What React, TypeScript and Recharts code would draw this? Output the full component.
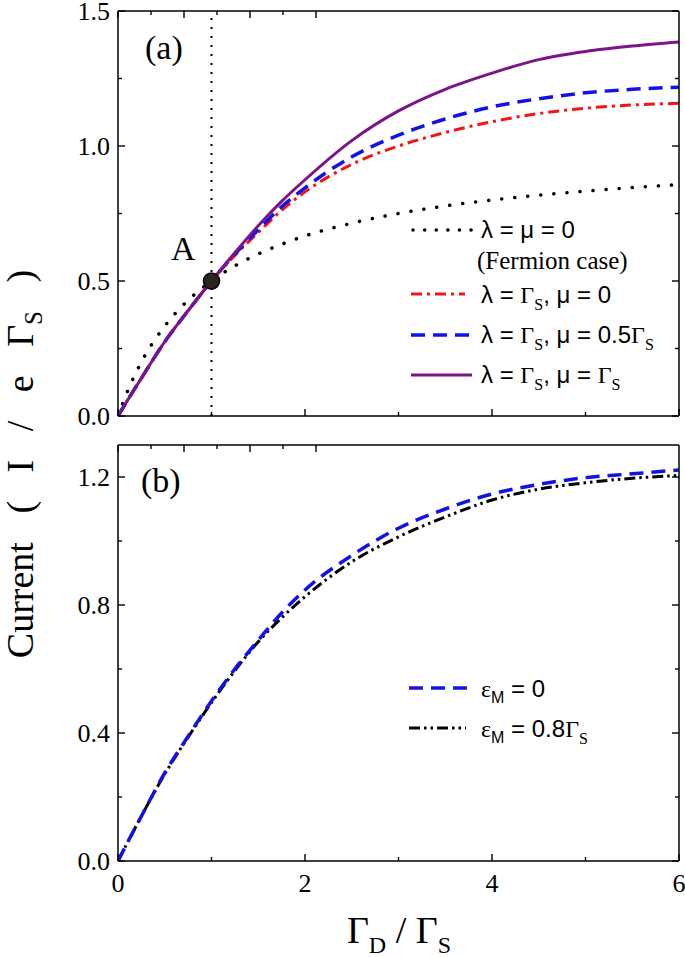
import React from 'react';
import { LineChart, Line, XAxis, YAxis, ReferenceLine, ReferenceDot, Legend } from 'recharts';

// ---------- data ----------
const xs = [0, 0.1, 0.25, 0.5, 0.75, 1, 1.25, 1.5, 1.75, 2, 2.5, 3, 3.5, 4, 4.5, 5, 5.5, 6];
// panel (a)
const fermion = [0, 0.09, 0.2, 0.333, 0.429, 0.5, 0.556, 0.6, 0.636, 0.667, 0.714, 0.75, 0.778, 0.8, 0.818, 0.833, 0.846, 0.857];
const lamMu0 = [0, 0.057, 0.14, 0.275, 0.39, 0.5, 0.595, 0.68, 0.762, 0.83, 0.932, 1.0, 1.05, 1.09, 1.12, 1.14, 1.152, 1.158];
const lamMuHalf = [0, 0.057, 0.14, 0.275, 0.39, 0.5, 0.6, 0.69, 0.775, 0.845, 0.96, 1.04, 1.1, 1.145, 1.175, 1.197, 1.21, 1.218];
const lamMuFull = [0, 0.057, 0.14, 0.275, 0.39, 0.5, 0.605, 0.705, 0.795, 0.875, 1.02, 1.13, 1.21, 1.27, 1.32, 1.35, 1.37, 1.385];
// panel (b)
const eps0 = [0, 0.057, 0.14, 0.275, 0.39, 0.5, 0.6, 0.69, 0.775, 0.847, 0.955, 1.04, 1.1, 1.147, 1.177, 1.198, 1.21, 1.222];
const eps08 = [0, 0.057, 0.14, 0.272, 0.387, 0.495, 0.595, 0.685, 0.76, 0.826, 0.935, 1.013, 1.075, 1.128, 1.162, 1.182, 1.196, 1.205];

// ticks
const xTickValues = [0, 1, 2, 3, 4, 5, 6];
const xTickLabels = ['0', '', '2', '', '4', '', '6'];
const yTopTicks = [0, 0.25, 0.5, 0.75, 1, 1.25, 1.5];
const yTopLabels = ['0.0', '', '0.5', '', '1.0', '', '1.5'];
const yBotTicks = [0, 0.2, 0.4, 0.6, 0.8, 1.0, 1.2];
const yBotLabels = ['0.0', '', '0.4', '', '0.8', '', '1.2'];

const topData = xs.map((x, i) => ({ x, fermion: fermion[i], mu0: lamMu0[i], muHalf: lamMuHalf[i], muFull: lamMuFull[i] }));
const botData = xs.map((x, i) => ({ x, eps0: eps0[i], eps08: eps08[i] }));

// ---------- styles ----------
const serif = '"Liberation Serif", "Times New Roman", serif';
const sans = '"Liberation Sans", Arial, sans-serif';
const RED = '#f51414';
const BLUE = '#1212e6';
const PURPLE = '#7a1488';
const axisLineStyle = { stroke: '#000', strokeWidth: 1.5 };
const LF = 24; // legend font size

function makeTick(side: 'bottom' | 'top' | 'left' | 'right', labels: string[], showLabels: boolean) {
  return (props: any) => {
    const { x, y, index } = props;
    const label = labels[index] ?? '';
    const major = label !== '';
    const len = major ? 7 : 4;
    let x2 = x, y2 = y;
    if (side === 'bottom') y2 = y - len;
    if (side === 'top') y2 = y + len;
    if (side === 'left') x2 = x + len;
    if (side === 'right') x2 = x - len;
    let text: any = null;
    if (showLabels && major) {
      if (side === 'bottom') {
        text = <text x={x} y={y + 31} textAnchor="middle" fontFamily={serif} fontSize={26} fill="#000">{label}</text>;
      } else if (side === 'left') {
        text = <text x={x - 8} y={y + 9} textAnchor="end" fontFamily={serif} fontSize={26} fill="#000">{label}</text>;
      }
    }
    return (
      <g>
        <line x1={x} y1={y} x2={x2} y2={y2} stroke="#000" strokeWidth={1.4} />
        {text}
      </g>
    );
  };
}

function TopLegend() {
  const ox = 400, oy = 200; // wrapper origin (page coords)
  const L = (x: number) => x - ox;
  const T = (y: number) => y - oy;
  return (
    <svg width={285} height={200} style={{ overflow: 'visible' }}>
      <line x1={L(413)} x2={L(472)} y1={T(230)} y2={T(230)} stroke="#000" strokeWidth={3.5} strokeDasharray="0.1 11.5" strokeLinecap="round" />
      <text x={L(481)} y={T(238)} fontFamily={sans} fontSize={LF} fill="#000">λ = μ = 0</text>
      <text x={L(477)} y={T(269)} fontFamily={serif} fontSize={25} fill="#000">(Fermion case)</text>

      <line x1={L(411)} x2={L(465)} y1={T(294)} y2={T(294)} stroke={RED} strokeWidth={3} strokeDasharray="11 5 3 5" />
      <text x={L(481)} y={T(303)} fontFamily={sans} fontSize={LF} fill="#000">
        λ = <tspan fontFamily={serif}>Γ</tspan><tspan fontFamily={serif} fontSize={16} dy={7}>S</tspan><tspan dy={-7}>, μ = 0</tspan>
      </text>

      <line x1={L(411)} x2={L(472)} y1={T(335)} y2={T(335)} stroke={BLUE} strokeWidth={3.5} strokeDasharray="14 8" />
      <text x={L(481)} y={T(343)} fontFamily={sans} fontSize={LF} fill="#000">
        λ = <tspan fontFamily={serif}>Γ</tspan><tspan fontFamily={serif} fontSize={16} dy={7}>S</tspan><tspan dy={-7}>, μ = 0.5</tspan><tspan fontFamily={serif}>Γ</tspan><tspan fontFamily={serif} fontSize={16} dy={7}>S</tspan>
      </text>

      <line x1={L(411)} x2={L(472)} y1={T(375)} y2={T(375)} stroke={PURPLE} strokeWidth={3} />
      <text x={L(481)} y={T(383)} fontFamily={sans} fontSize={LF} fill="#000">
        λ = <tspan fontFamily={serif}>Γ</tspan><tspan fontFamily={serif} fontSize={16} dy={7}>S</tspan><tspan dy={-7}>, μ = </tspan><tspan fontFamily={serif}>Γ</tspan><tspan fontFamily={serif} fontSize={16} dy={7}>S</tspan>
      </text>
    </svg>
  );
}

function BottomLegend() {
  const ox = 400, oy = 230; // relative to chart 2 (page top 430)
  const L = (x: number) => x - ox;
  const T = (y: number) => y - 430 - oy;
  return (
    <svg width={285} height={100} style={{ overflow: 'visible' }}>
      <line x1={L(409)} x2={L(468)} y1={T(688)} y2={T(688)} stroke={BLUE} strokeWidth={3.5} strokeDasharray="14 8" />
      <text x={L(481)} y={T(697)} fontFamily={sans} fontSize={LF} fill="#000">
        <tspan fontFamily={serif}>ε</tspan><tspan fontSize={16} dy={6}>M</tspan><tspan dy={-6}> = 0</tspan>
      </text>
      <line x1={L(409)} x2={L(466)} y1={T(728)} y2={T(728)} stroke="#000" strokeWidth={3} strokeDasharray="11 4 2.5 4 2.5 4" />
      <text x={L(481)} y={T(737)} fontFamily={sans} fontSize={LF} fill="#000">
        <tspan fontFamily={serif}>ε</tspan><tspan fontSize={16} dy={6}>M</tspan><tspan dy={-6}> = 0.8</tspan><tspan fontFamily={serif}>Γ</tspan><tspan fontFamily={serif} fontSize={16} dy={7}>S</tspan>
      </text>
    </svg>
  );
}

export default function App() {
  return (
    <div style={{ position: 'absolute', left: 0, top: 0, width: 685, height: 957, background: '#fff' }}>
      {/* Panel (a) */}
      <div style={{ position: 'absolute', left: 0, top: 0 }}>
        <LineChart width={685} height={430} data={topData} margin={{ top: 10, right: 5, bottom: 13, left: 117 }}>
          <XAxis xAxisId="b" dataKey="x" type="number" domain={[0, 6]} ticks={xTickValues} interval={0} height={1}
            tickSize={0} tickMargin={0} tickLine={false} axisLine={axisLineStyle} allowDataOverflow
            tick={makeTick('bottom', xTickLabels, false)} />
          <XAxis xAxisId="t" orientation="top" type="number" domain={[0, 6]} ticks={xTickValues} interval={0} height={1}
            tickSize={0} tickMargin={0} tickLine={false} axisLine={axisLineStyle} allowDataOverflow
            tick={makeTick('top', xTickLabels, false)} />
          <YAxis yAxisId="l" type="number" domain={[0, 1.5]} ticks={yTopTicks} interval={0} width={1}
            tickSize={0} tickMargin={0} tickLine={false} axisLine={axisLineStyle} allowDataOverflow
            tick={makeTick('left', yTopLabels, true)} />
          <YAxis yAxisId="r" orientation="right" type="number" domain={[0, 1.5]} ticks={yTopTicks} interval={0} width={1}
            tickSize={0} tickMargin={0} tickLine={false} axisLine={axisLineStyle} allowDataOverflow
            tick={makeTick('right', yTopLabels, false)} />
          <ReferenceLine xAxisId="b" yAxisId="l" x={1} stroke="#000" strokeWidth={2} strokeDasharray="2 7" />
          <Line xAxisId="b" yAxisId="l" type="monotone" dataKey="fermion" name="λ = μ = 0" stroke="#000" strokeWidth={3.5}
            strokeDasharray="0.1 13" strokeLinecap="round" dot={false} isAnimationActive={false} />
          <Line xAxisId="b" yAxisId="l" type="monotone" dataKey="mu0" name="λ = ΓS, μ = 0" stroke={RED} strokeWidth={3}
            strokeDasharray="11 5 3 5" dot={false} isAnimationActive={false} />
          <Line xAxisId="b" yAxisId="l" type="monotone" dataKey="muHalf" name="λ = ΓS, μ = 0.5ΓS" stroke={BLUE} strokeWidth={3.5}
            strokeDasharray="14 8" dot={false} isAnimationActive={false} />
          <Line xAxisId="b" yAxisId="l" type="monotone" dataKey="muFull" name="λ = ΓS, μ = ΓS" stroke={PURPLE} strokeWidth={3}
            dot={false} isAnimationActive={false} />
          <ReferenceDot xAxisId="b" yAxisId="l" x={1} y={0.5} r={8} fill="#2a2522" stroke="#000" strokeWidth={1.5} />
          <Legend layout="horizontal" verticalAlign="middle" align="center" content={() => <TopLegend />}
            wrapperStyle={{ left: 400, top: 200, width: 285, height: 200 }} />
          <text x={145} y={59} fontFamily={serif} fontSize={34} fill="#000">(a)</text>
          <text x={171} y={260} fontFamily={serif} fontSize={34} fill="#000">A</text>
        </LineChart>
      </div>

      {/* Panel (b) */}
      <div style={{ position: 'absolute', left: 0, top: 430 }}>
        <LineChart width={685} height={527} data={botData} margin={{ top: 14, right: 5, bottom: 95, left: 117 }}>
          <XAxis xAxisId="b" dataKey="x" type="number" domain={[0, 6]} ticks={xTickValues} interval={0} height={1}
            tickSize={0} tickMargin={0} tickLine={false} axisLine={axisLineStyle} allowDataOverflow
            tick={makeTick('bottom', xTickLabels, true)} />
          <XAxis xAxisId="t" orientation="top" type="number" domain={[0, 6]} ticks={xTickValues} interval={0} height={1}
            tickSize={0} tickMargin={0} tickLine={false} axisLine={axisLineStyle} allowDataOverflow
            tick={makeTick('top', xTickLabels, false)} />
          <YAxis yAxisId="l" type="number" domain={[0, 1.3]} ticks={yBotTicks} interval={0} width={1}
            tickSize={0} tickMargin={0} tickLine={false} axisLine={axisLineStyle} allowDataOverflow
            tick={makeTick('left', yBotLabels, true)} />
          <YAxis yAxisId="r" orientation="right" type="number" domain={[0, 1.3]} ticks={yBotTicks} interval={0} width={1}
            tickSize={0} tickMargin={0} tickLine={false} axisLine={axisLineStyle} allowDataOverflow
            tick={makeTick('right', yBotLabels, false)} />
          <Line xAxisId="b" yAxisId="l" type="monotone" dataKey="eps08" name="εM = 0.8ΓS" stroke="#000" strokeWidth={3}
            strokeDasharray="11 4 2.5 4 2.5 4" dot={false} isAnimationActive={false} />
          <Line xAxisId="b" yAxisId="l" type="monotone" dataKey="eps0" name="εM = 0" stroke={BLUE} strokeWidth={3.5}
            strokeDasharray="14 8" dot={false} isAnimationActive={false} />
          <Legend layout="horizontal" verticalAlign="middle" align="center" content={() => <BottomLegend />}
            wrapperStyle={{ left: 400, top: 230, width: 285, height: 100 }} />
          <text x={141} y={62} fontFamily={serif} fontSize={34} fill="#000">(b)</text>
        </LineChart>
      </div>

      {/* Axis titles */}
      <svg width={685} height={957} style={{ position: 'absolute', left: 0, top: 0, pointerEvents: 'none' }}>
        <text x={33} y={464} transform="rotate(-90, 33, 464)" textAnchor="middle" fontFamily={serif} fontSize={38} fill="#000" xmlSpace="preserve">
          {'Current   (   I   /   e   Γ'}<tspan fontSize={25} dy={9}>S</tspan><tspan dy={-9}>{'   )'}</tspan>
        </text>
        <text x={399} y={943} textAnchor="middle" fontFamily={serif} fontSize={38} fill="#000" xmlSpace="preserve">
          {'Γ'}<tspan fontSize={24} dy={10}>D</tspan><tspan dy={-10}>{' / Γ'}</tspan><tspan fontSize={24} dy={10}>S</tspan>
        </text>
      </svg>
    </div>
  );
}
